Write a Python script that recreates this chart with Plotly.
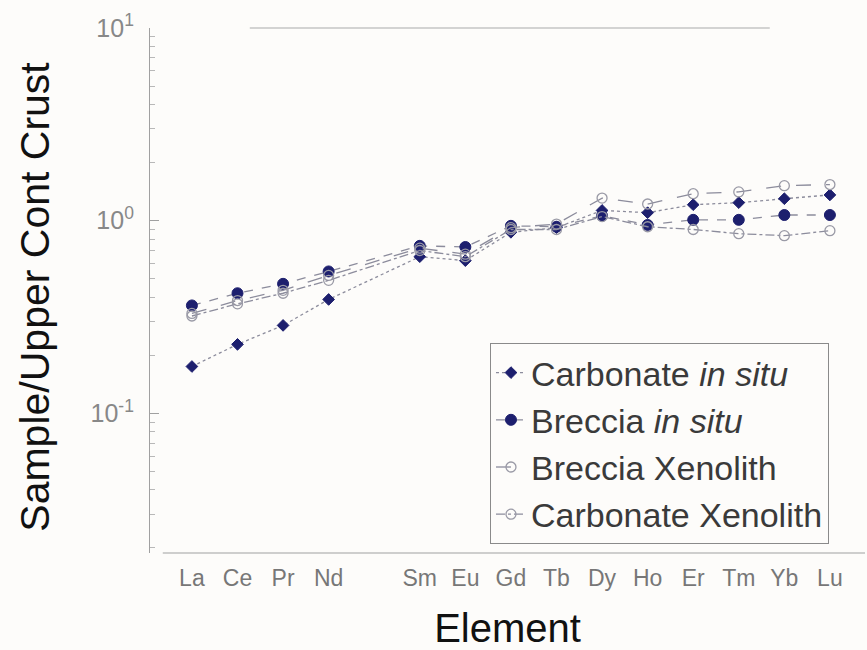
import plotly.graph_objects as go

elements = ["La", "Ce", "Pr", "Nd", "Pm", "Sm", "Eu", "Gd", "Tb", "Dy", "Ho", "Er", "Tm", "Yb", "Lu"]
tick_labels = ["La", "Ce", "Pr", "Nd", "", "Sm", "Eu", "Gd", "Tb", "Dy", "Ho", "Er", "Tm", "Yb", "Lu"]

carbonate_in_situ = [0.175, 0.228, 0.286, 0.39, None, 0.65, 0.62, 0.87, 0.92, 1.13, 1.10, 1.21, 1.24, 1.30, 1.36]
breccia_in_situ = [0.363, 0.42, 0.47, 0.545, None, 0.74, 0.73, 0.94, 0.93, 1.06, 0.95, 1.01, 1.01, 1.07, 1.07]
breccia_xenolith = [0.33, 0.385, 0.435, 0.52, None, 0.72, 0.67, 0.92, 0.96, 1.31, 1.22, 1.38, 1.41, 1.52, 1.54]
carbonate_xenolith = [0.32, 0.37, 0.42, 0.49, None, 0.70, 0.65, 0.90, 0.90, 1.05, 0.93, 0.90, 0.856, 0.836, 0.887]

x = list(range(len(elements)))
navy = "#1d1f6e"
line_grey = "#8c8c9c"

fig = go.Figure()
fig.add_trace(go.Scatter(
    x=x, y=carbonate_in_situ, name="Carbonate <i>in situ</i>", mode="lines+markers",
    connectgaps=True, legendgroup="a",
    line=dict(color=line_grey, width=1.3, dash="dot"),
    marker=dict(symbol="diamond", size=9, color=navy, line=dict(color=navy, width=1)),
))
fig.add_trace(go.Scatter(
    x=x, y=breccia_in_situ, name="Breccia <i>in situ</i>", mode="lines+markers",
    connectgaps=True, legendgroup="b",
    line=dict(color=line_grey, width=1.3, dash="dash"),
    marker=dict(symbol="circle", size=11, color=navy, line=dict(color=navy, width=1)),
))
fig.add_trace(go.Scatter(
    x=x, y=breccia_xenolith, name="Breccia Xenolith", mode="lines+markers",
    connectgaps=True, legendgroup="c",
    line=dict(color=line_grey, width=1.3, dash="longdash"),
    marker=dict(symbol="circle-open", size=10, color="#9a9aa6", line=dict(width=1.3)),
))
fig.add_trace(go.Scatter(
    x=x, y=carbonate_xenolith, name="Carbonate Xenolith", mode="lines+markers",
    connectgaps=True, legendgroup="d",
    line=dict(color=line_grey, width=1.3, dash="dashdot"),
    marker=dict(symbol="circle-open", size=10, color="#9a9aa6", line=dict(width=1.3)),
))

# faint top frame line and offset x-axis line
fig.add_shape(type="line", xref="x", yref="paper", x0=1.27, x1=12.68, y0=1.0, y1=1.0,
              line=dict(color="#aaaaaa", width=1.2))
fig.add_shape(type="line", xref="x", yref="paper", x0=-0.64, x1=14.77, y0=0, y1=0,
              line=dict(color="#a0a0a0", width=1.2))

# y-axis title placed as an annotation so it sits at the far left like the original
fig.add_annotation(
    text="Sample/Upper Cont Crust", xref="paper", yref="paper",
    x=-0.161, y=0.488, xanchor="center", yanchor="middle", textangle=-90,
    showarrow=False, font=dict(size=41, color="#111111"),
)

minor_vals = [m * d for d in (0.01, 0.1, 1) for m in range(2, 10)]

fig.update_layout(
    width=867, height=650,
    margin=dict(l=150, r=2, t=28, b=97),
    paper_bgcolor="#fdfcfa", plot_bgcolor="#fdfcfa",
    font=dict(family="Liberation Sans, Arial, sans-serif"),
    legend=dict(
        x=0.4755, y=0.40, xanchor="left", yanchor="top",
        font=dict(size=34, color="#3a3a3a"),
        bordercolor="#8a8a8a", borderwidth=1, bgcolor="rgba(0,0,0,0)",
        traceorder="grouped", tracegroupgap=0, itemwidth=30,
    ),
    xaxis=dict(
        range=[-0.92, 14.77], showgrid=False, zeroline=False, showline=False,
        tickmode="array", tickvals=x, ticktext=tick_labels, ticks="",
        tickfont=dict(size=23, color="#777777"), ticklabelstandoff=9,
        title=dict(text="Element", font=dict(size=40, color="#111111"), standoff=26),
    ),
    yaxis=dict(
        type="log", range=[-1.725, 1.0], showgrid=False, zeroline=False,
        showline=True, linecolor="#a0a0a0", linewidth=1.2,
        tickmode="array", tickvals=[0.1, 1, 10],
        ticktext=["10<sup>-1</sup>", "10<sup>0</sup>", "10<sup>1</sup>"],
        ticks="inside", ticklen=9, tickcolor="#a0a0a0",
        minor=dict(tickvals=minor_vals, ticks="inside", ticklen=5, tickcolor="#b8b8b8"),
        tickfont=dict(size=25, color="#888888"), ticklabelstandoff=10,
    ),
)

fig.write_html("out.html")
